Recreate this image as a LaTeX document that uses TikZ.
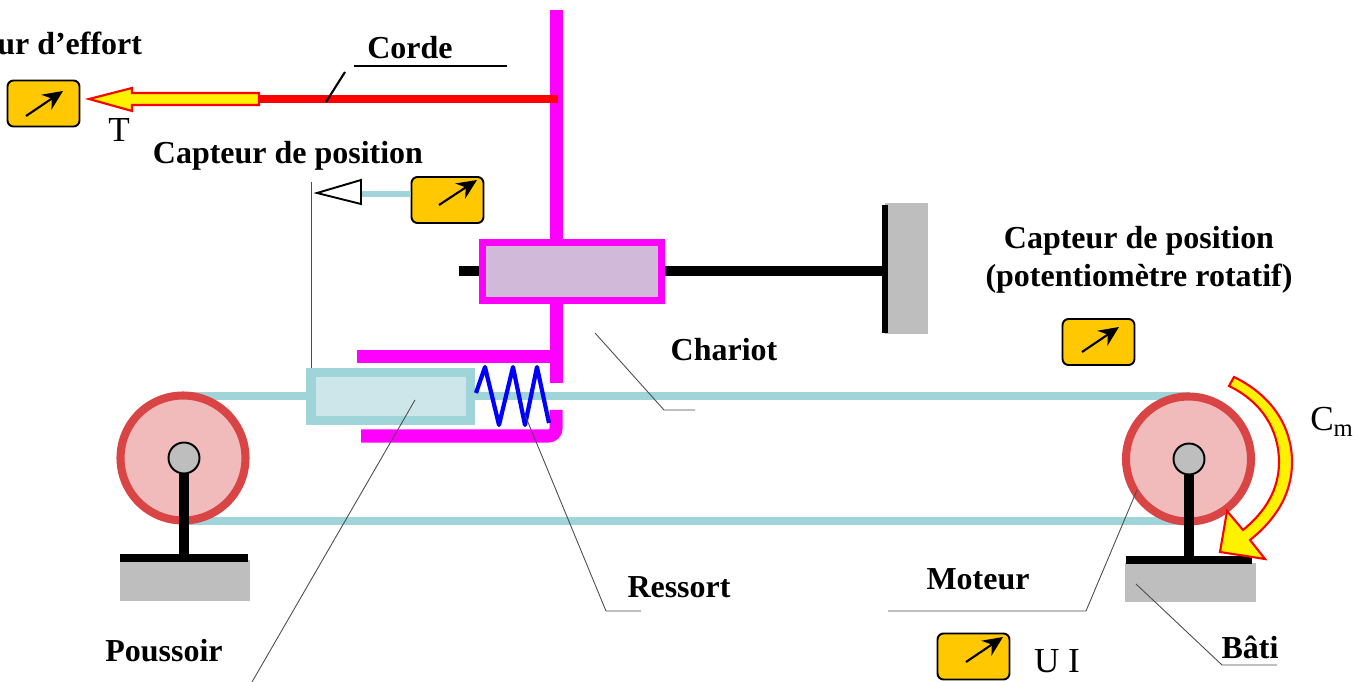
\documentclass[tikz,border=0pt]{standalone}
\usepackage{fontspec}
\setmainfont{Liberation Serif}
\usepackage{tikz}
\usetikzlibrary{arrows.meta}
\definecolor{beltblue}{HTML}{9FD4D8}
\definecolor{pushfill}{HTML}{CDE6EA}
\definecolor{wheelred}{HTML}{D94545}
\definecolor{wheelfill}{HTML}{F2BBBB}
\definecolor{cartfill}{HTML}{D1B9DA}
\definecolor{gaugeyellow}{HTML}{FFC800}
\definecolor{blockgray}{HTML}{BEBEBE}
\definecolor{framepink}{HTML}{FF00FF}

\begin{document}
\begin{tikzpicture}[
    x=0.02cm, y=-0.02cm,
    lbl/.style={font=\fontsize{18.2}{20}\selectfont\bfseries, inner sep=0pt},
    plainlbl/.style={font=\fontsize{20}{22}\selectfont, inner sep=0pt},
    leader/.style={draw=black!70, line width=0.5pt},
    belt/.style={draw=beltblue, line width=4pt},
    frame/.style={draw=framepink, line width=7.4pt},
    post/.style={draw=black, line width=5.4pt},
    block/.style={fill=blockgray, draw=none},
    wheel/.style={circle, draw=wheelred, line width=4.6pt, fill=wheelfill, minimum size=2.5cm, inner sep=0pt},
    hub/.style={circle, draw=black, line width=1.1pt, fill=blockgray, minimum size=0.62cm, inner sep=0pt},
    gauge/.style={draw=black, line width=1.1pt, fill=gaugeyellow, rounded corners=0.12cm, minimum width=1.44cm, minimum height=0.92cm, inner sep=0pt},
    gaugearrow/.style={draw=black, line width=1.2pt, -{Stealth[length=0.4cm,width=0.36cm]}},
    bigarrow/.style={draw=red, line width=1.2pt, fill=yellow}
]
\useasboundingbox (0,0) rectangle (1367,682);

% belt
\coordinate (beltTL) at (183,396);
\coordinate (beltTR) at (1190,396);
\coordinate (beltBL) at (183,521);
\coordinate (beltBR) at (1190,521);
\draw[belt] (beltTL) -- (beltTR);
\draw[belt] (beltBL) -- (beltBR);

% pulleys
\node[wheel] (wheelL) at (183,458) {};
\node[wheel] (wheelR) at (1188.5,459) {};
\node[hub] (hubL) at (184,458) {};
\node[hub] (hubR) at (1189,459) {};
\coordinate (baseL) at (184,558);
\coordinate (baseR) at (1189,560);
\fill[block] (120,560) rectangle (250,601);
\fill[block] (1125,563) rectangle (1256,602);
\draw[post] (hubL.south) -- (baseL);
\draw[post] (hubR.south) -- (baseR);
\draw[draw=black, line width=4pt] (120,558) -- (248,558);
\draw[draw=black, line width=4pt] (1126,560) -- (1252,560);

% frame
\draw[post] (459,271) -- (885,271);
\draw[frame] (556,10) -- (556,240);
\draw[frame] (556,304) -- (556,383);
\draw[frame] (357,357) -- (556,357);
\draw[frame, rounded corners=0.15cm] (556,410) -- (556,436) -- (361,436);
\draw[draw=framepink, line width=4pt, fill=cartfill] (482.5,242.5) rectangle (661.5,300.5);
\fill[block] (885,203) rectangle (928,334);
\draw[draw=black, line width=3.4pt] (885,205) -- (885,333);

% pusher and spring
\draw[draw=beltblue, line width=5.4pt, fill=pushfill] (311,372.5) rectangle (470.5,420.5);
\draw[draw=blue, line width=2.4pt, line join=round] (476,393) -- (485,367) -- (499,425) -- (513,367) -- (525,425) -- (537,367) -- (549,423);

% cord
\draw[draw=red, line width=4.6pt] (259,99) -- (558,99);
\draw[bigarrow] (89,99) -- (132,88) -- (132,93) -- (259,93) -- (259,105) -- (132,105) -- (132,111) -- cycle;

% gauges
\foreach \name/\gx/\gy/\tx/\ty/\hx/\hy in {gaugeT/43.5/103.5/26/116/63/91, gaugeP/447.5/200/439/205/477/180, gaugeR/1098.5/342/1082/352/1119/327, gaugeM/973.5/656.5/966/662/1003/637} {
    \node[gauge] (\name) at (\gx,\gy) {};
    \draw[gaugearrow] (\tx,\ty) -- (\hx,\hy);
}

% position sensor
\coordinate (triTip) at (317,193);
\coordinate (triTop) at (361,180);
\coordinate (triBot) at (361,204);
\draw[draw=beltblue, line width=3.4pt] (361,194) -- ([yshift=0.12cm]gaugeP.west);
\draw[draw=black, line width=1.1pt, fill=white] (triTip) -- (triTop) -- (triBot) -- cycle;
\draw[leader] (311,182) -- (311,368);

% torque arrow
\draw[bigarrow] (1234,377) .. controls (1275,397) and (1292,430) .. (1292,462)
    .. controls (1292,495) and (1275,520) .. (1250,540) -- (1265,559) -- (1220,552) -- (1227,511) -- (1243,530)
    .. controls (1265,512) and (1279,490) .. (1279,462)
    .. controls (1279,430) and (1262,402) .. (1229,386) -- cycle;

% labels
\node[lbl, anchor=west] (lblEffort) at (-3,43) {ur d’effort};
\node[lbl] (lblCorde) at (410,48) {Corde};
\node[plainlbl] (lblT) at (119,130) {T};
\node[lbl] (lblPosA) at (288,156) {Capteur de position};
\node[lbl] (lblPosB) at (1139,241) {Capteur de position};
\node[lbl] (lblPosC) at (1139,279) {(potentiomètre rotatif)};
\node[lbl] (lblChariot) at (724,350) {Chariot};
\node[lbl] (lblRessort) at (679,587) {Ressort};
\node[lbl] (lblMoteur) at (978,579) {Moteur};
\node[lbl] (lblPoussoir) at (164,651) {Poussoir};
\node[lbl] (lblBati) at (1250,647) {Bâti};
\node[plainlbl] (lblUI) at (1057,661) {U I};
\node[plainlbl] (lblCm) at (1332,422) {C\textsubscript{m}};

% leaders
\draw[draw=black, line width=1.2pt] (354,66) -- (507,66);
\draw[draw=black, line width=1.2pt] (345,72) -- (326,102);
\draw[leader] (595,333) -- (664,410) -- (695,410);
\draw[leader] (415,400) -- (252,682);
\draw[leader] (525,415) -- (606,611) -- (641,611);
\draw[leader] (1137,490) -- (1086,611) -- (888,611);
\draw[leader] (1136,584) -- (1222,665) -- (1277,665);
\end{tikzpicture}
\end{document}
